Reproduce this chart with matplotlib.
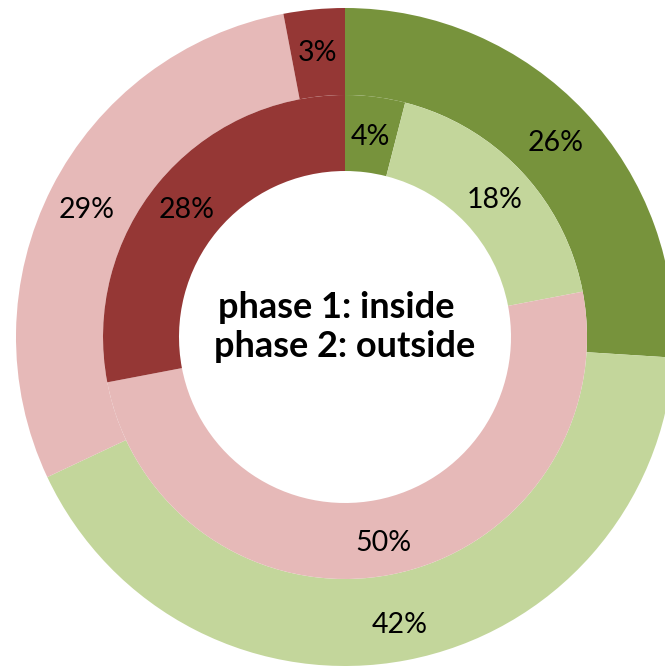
import matplotlib
matplotlib.use("Agg")
import matplotlib.pyplot as plt

# phase 2 (outer ring) and phase 1 (inner ring) shares, clockwise from 12 o'clock
outer_values = [26, 42, 29, 3]
inner_values = [4, 18, 50, 28]
colors = ["#77933C", "#C3D69B", "#E6B9B8", "#953735"]

plt.rcParams['font.family'] = ['Lato', 'DejaVu Sans']

fig = plt.figure(figsize=(6.65, 6.66), dpi=100)
# outer radius ~329 px, centre at (345, 337) px from top-left
ax = fig.add_axes([16 / 665, 0 / 666, 658 / 665, 658 / 666])

r_out = 1.0
r_mid = 242 / 329
r_hole = 166 / 329

_, _, outer_txt = ax.pie(outer_values, colors=colors, radius=r_out, startangle=90,
                         counterclock=False,
                         wedgeprops=dict(width=r_out - r_mid, linewidth=0),
                         autopct='%d%%', pctdistance=0.88,
                         textprops=dict(fontsize=20.5, color='black'))
_, _, inner_txt = ax.pie(inner_values, colors=colors, radius=r_mid, startangle=90,
                         counterclock=False,
                         wedgeprops=dict(width=r_mid - r_hole, linewidth=0),
                         autopct='%d%%', pctdistance=0.85,
                         textprops=dict(fontsize=20.5, color='black'))

# labels sit a touch lower in the original
for t in outer_txt + inner_txt:
    x, y = t.get_position()
    t.set_position((x, y - 4 / 329))

ax.text(0, 0.03, "phase 1: inside  \nphase 2: outside", ha='center', va='center',
        fontsize=26, fontweight='bold', linespacing=1.2)

ax.set_xlim(-1, 1)
ax.set_ylim(-1, 1)
ax.set_aspect('equal')
ax.axis('off')

plt.savefig("out.png", dpi=100)
